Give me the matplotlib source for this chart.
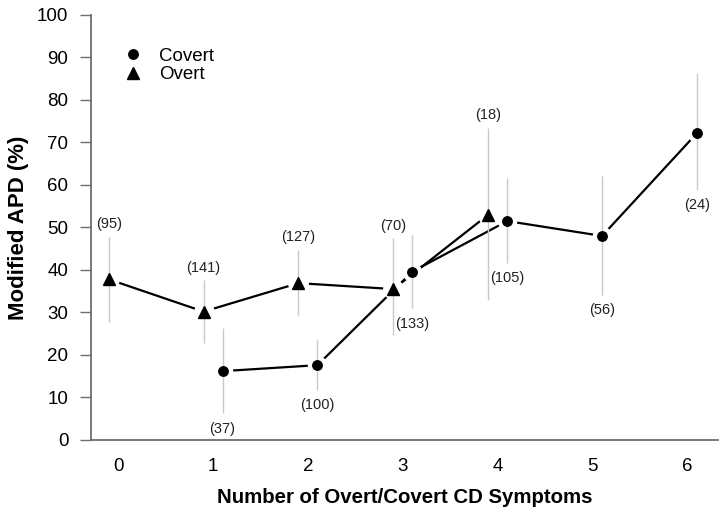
import matplotlib
matplotlib.use("Agg")
import matplotlib.pyplot as plt
from matplotlib.lines import Line2D

plt.rcParams['font.family'] = ['Liberation Sans', 'DejaVu Sans']

# ---- data ----
overt_x = [0, 1, 2, 3, 4]
overt_y = [37.8, 30.2, 36.9, 35.5, 53.0]
overt_lo = [27.8, 22.8, 29.4, 24.7, 32.9]
overt_hi = [47.8, 37.6, 44.8, 47.5, 73.4]
overt_n = [95, 141, 127, 70, 18]

covert_x = [1, 2, 3, 4, 5, 6]
covert_y = [16.2, 17.6, 39.6, 51.5, 48.0, 72.2]
covert_lo = [6.3, 11.8, 31.0, 41.6, 34.1, 58.8]
covert_hi = [26.3, 23.5, 48.2, 61.6, 62.1, 86.3]
covert_n = [37, 100, 133, 105, 56, 24]

xticks = [0, 1, 2, 3, 4, 5, 6]
yticks = [0, 10, 20, 30, 40, 50, 60, 70, 80, 90, 100]
shift = 0.1

fig = plt.figure(figsize=(7.2, 5.14), dpi=100)
ax = fig.add_axes([0.126, 0.144, 0.871, 0.827])

ox = [v - shift for v in overt_x]
cx = [v + shift for v in covert_x]

# connecting lines
ax.plot(ox, overt_y, color='black', lw=1.6, zorder=2)
ax.plot(cx, covert_y, color='black', lw=1.6, zorder=2)
# white halos to create gaps
ax.plot(ox, overt_y, ls='none', marker='o', ms=14, mfc='white', mec='white', zorder=3)
ax.plot(cx, covert_y, ls='none', marker='o', ms=13, mfc='white', mec='white', zorder=3)
# error bars
ax.vlines(ox, overt_lo, overt_hi, color='#c8c8c8', lw=1.0, zorder=4)
ax.vlines(cx, covert_lo, covert_hi, color='#c8c8c8', lw=1.0, zorder=4)
# markers
ax.plot(ox, overt_y, ls='none', marker='^', ms=8, color='black', zorder=5)
ax.plot(cx, covert_y, ls='none', marker='o', ms=6.8, color='black', zorder=5)

# n labels
for x, h, n in zip(ox, overt_hi, overt_n):
    ax.annotate(f'({n})', (x, h), xytext=(0, 4), textcoords='offset points',
                ha='center', va='bottom', fontsize=10.5, color='#222222')
for x, l, n in zip(cx, covert_lo, covert_n):
    ax.annotate(f'({n})', (x, l), xytext=(0, -6), textcoords='offset points',
                ha='center', va='top', fontsize=10.5, color='#222222')

ax.set_xlim(-0.29, 6.32)
ax.set_ylim(0, 100)
ax.set_xticks(xticks)
ax.set_xticklabels([str(t) for t in xticks])
ax.set_yticks(yticks)
ax.set_yticklabels([str(t) for t in yticks])

for s in ['top', 'right']:
    ax.spines[s].set_visible(False)
for s in ['left', 'bottom']:
    ax.spines[s].set_color('#6e6e6e')
    ax.spines[s].set_linewidth(1.3)

ax.tick_params(axis='x', length=0, pad=13, labelsize=13.5)
ax.tick_params(axis='y', length=8, width=1.0, color='#6e6e6e', pad=8, labelsize=13.5, direction='out')

ax.set_xlabel('Number of Overt/Covert CD Symptoms', fontsize=14.7, fontweight='bold', labelpad=9)
ax.set_ylabel('Modified APD (%)', fontsize=16, fontweight='bold', labelpad=6)

handles = [Line2D([], [], ls='none', marker='o', ms=6.8, color='black'),
           Line2D([], [], ls='none', marker='^', ms=8, color='black')]
ax.legend(handles, ['Covert', 'Overt'], loc='upper left', bbox_to_anchor=(0.04, 0.94),
          frameon=False, fontsize=13.5, handlelength=1.0, handletextpad=0.9,
          labelspacing=0.05, borderaxespad=0)

fig.savefig('out.png', dpi=100)
